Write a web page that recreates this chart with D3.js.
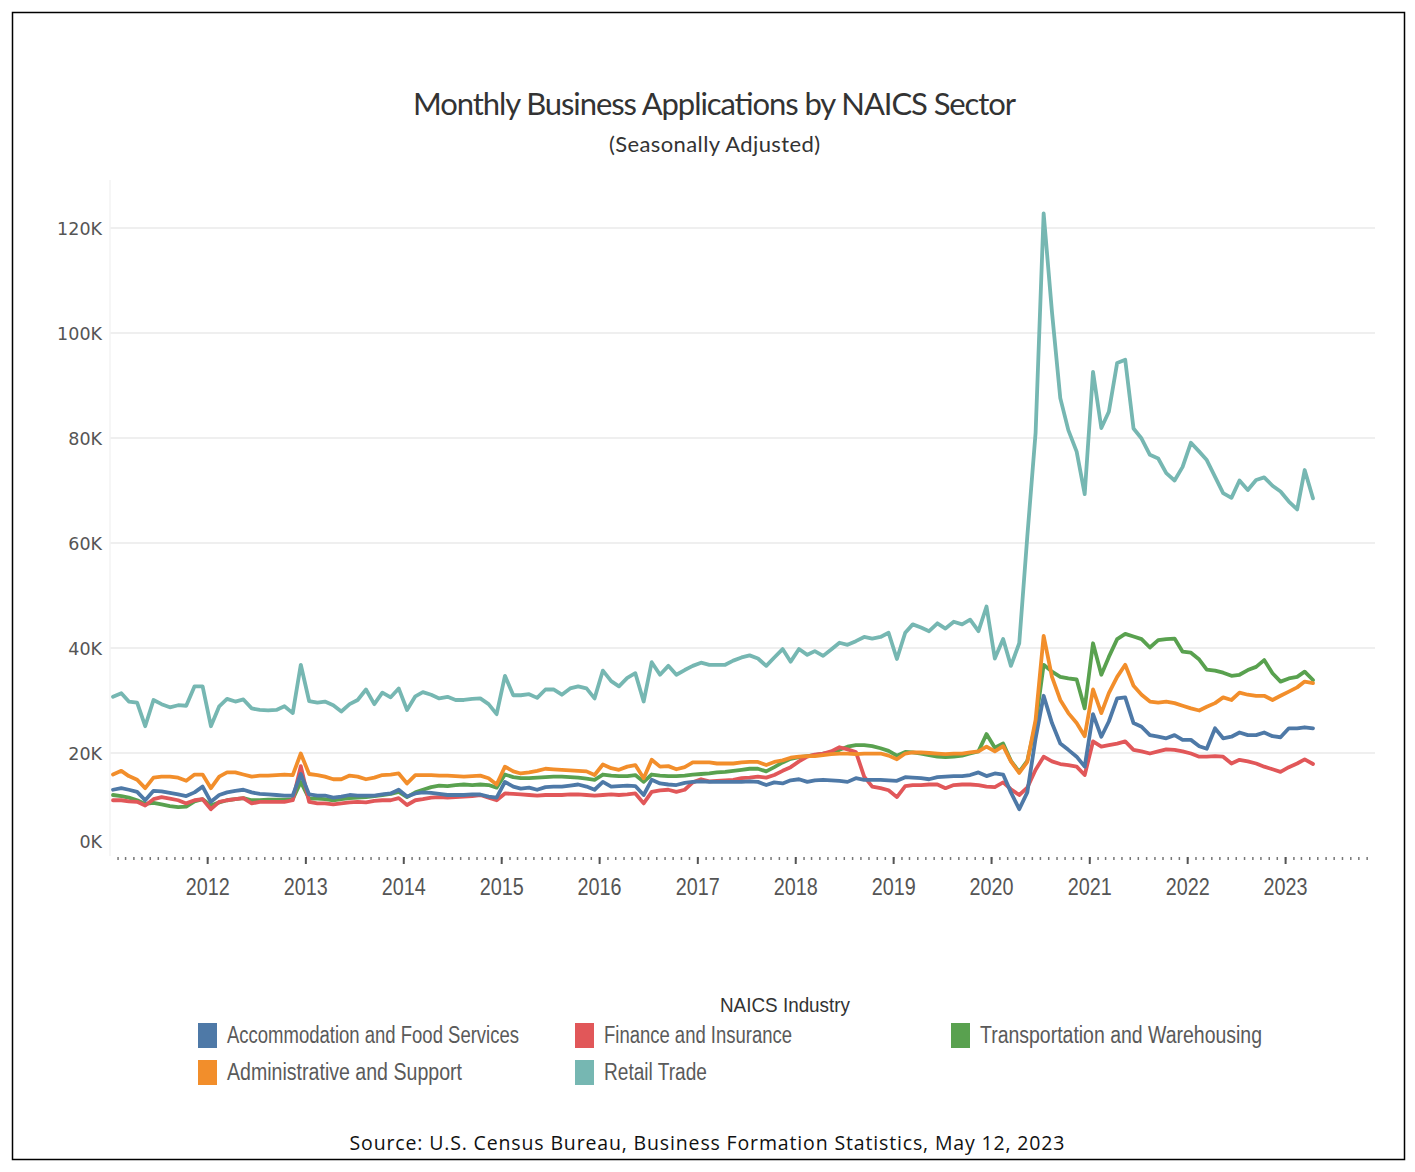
<!DOCTYPE html>
<html><head><meta charset="utf-8">
<script src="https://cdn.jsdelivr.net/npm/d3@7"></script>
<style>body{margin:0;background:#fff}</style>
</head><body>
<svg id="chart" width="1415" height="1172"></svg>
<script>
// ---------- DATA (monthly, Jan 2011 – Apr 2023, thousands of applications) ----------
const firstMonth = [2011, 0];   // Jan 2011
const accommodation = [13.0,13.3,13.0,12.6,11.0,12.8,12.7,12.4,12.1,11.8,12.5,13.6,
 10.7,12.0,12.5,12.8,13.0,12.5,12.2,12.1,12.0,11.9,11.9,16.0,
 12.1,11.9,11.9,11.5,11.7,12.0,11.9,11.9,11.9,12.1,12.3,13.0,
 11.7,12.3,12.5,12.4,12.2,12.0,12.0,12.0,12.1,12.1,11.7,11.5,
 14.5,13.6,13.2,13.4,13.0,13.5,13.6,13.6,13.8,14.0,13.6,13.0,
 14.5,13.6,13.7,13.8,13.7,12.0,14.9,14.2,14.0,13.9,14.3,14.5,
 14.6,14.5,14.5,14.5,14.5,14.5,14.6,14.5,13.9,14.4,14.2,14.8,
 15.0,14.5,14.8,14.9,14.8,14.7,14.5,15.2,14.9,14.9,14.9,14.8,
 14.7,15.4,15.3,15.2,15.0,15.4,15.5,15.6,15.6,15.8,16.3,15.6,
 16.1,15.9,12.5,9.3,12.5,22.8,30.9,25.7,21.8,20.6,19.3,17.4,
 27.4,23.1,26.0,30.4,30.6,25.7,25.0,23.4,23.1,22.8,23.4,22.5,
 22.5,21.3,20.8,24.7,22.8,23.1,23.9,23.4,23.4,23.9,23.2,23.0,
 24.7,24.7,24.9,24.7];
const administrative = [15.9,16.6,15.6,14.9,13.3,15.3,15.5,15.5,15.3,14.7,15.9,15.9,
 13.3,15.5,16.3,16.3,15.9,15.5,15.7,15.7,15.8,15.9,15.8,19.9,
 16.0,15.8,15.5,15.0,15.0,15.7,15.5,15.0,15.3,15.8,15.9,16.1,
 14.2,15.8,15.8,15.8,15.7,15.7,15.6,15.5,15.6,15.7,15.2,14.0,
 17.4,16.5,16.1,16.3,16.6,17.0,16.9,16.8,16.7,16.6,16.5,15.8,
 17.8,17.1,16.8,17.4,17.7,15.2,18.7,17.4,17.5,16.9,17.3,18.2,
 18.2,18.2,18.0,18.0,18.0,18.2,18.3,18.3,17.7,18.3,18.6,19.1,
 19.3,19.4,19.4,19.6,19.8,19.9,19.9,19.8,19.9,19.9,19.9,19.5,
 18.8,19.9,20.1,20.1,20.0,19.9,19.8,19.9,19.9,20.1,20.3,21.2,
 20.3,21.3,18.4,16.2,18.3,26.3,42.3,34.5,30.1,27.6,25.7,23.2,
 32.1,27.6,31.4,34.5,36.8,32.8,31.1,29.8,29.6,29.8,29.5,29.0,
 28.5,28.1,28.8,29.5,30.6,30.1,31.5,31.1,30.9,30.9,30.1,30.9,
 31.7,32.5,33.6,33.3];
const finance = [11.0,11.0,10.8,10.7,10.0,11.2,11.6,11.3,11.0,10.4,11.0,11.2,
 9.3,10.7,11.0,11.2,11.4,10.4,10.7,10.7,10.7,10.7,11.0,17.5,
 10.7,10.4,10.4,10.2,10.4,10.6,10.7,10.6,10.9,11.0,11.0,11.4,
 10.1,11.0,11.2,11.5,11.6,11.5,11.6,11.7,11.8,12.0,11.5,11.0,
 12.3,12.2,12.1,12.0,11.9,12.0,12.0,12.0,12.1,12.1,12.0,11.9,
 12.0,12.1,12.0,12.1,12.3,10.4,12.6,12.9,13.0,12.6,13.0,14.4,
 15.0,14.6,14.7,14.8,14.9,15.2,15.3,15.5,15.3,15.8,16.6,17.3,
 18.4,19.3,19.7,19.9,20.3,21.1,20.7,20.2,15.5,13.6,13.3,12.9,
 11.6,13.7,13.9,13.9,14.0,14.0,13.3,13.9,14.0,14.0,13.9,13.6,
 13.5,14.4,13.1,12.0,13.4,16.8,19.3,18.4,17.9,17.7,17.4,15.8,
 22.2,21.2,21.5,21.8,22.2,20.6,20.3,19.9,20.3,20.7,20.6,20.3,
 19.9,19.3,19.3,19.4,19.3,18.0,18.7,18.4,18.0,17.4,16.9,16.4,
 17.3,18.0,18.8,17.9];
const retail = [30.7,31.4,29.8,29.6,25.1,30.1,29.3,28.7,29.1,29.0,32.7,32.7,
 25.1,28.9,30.3,29.8,30.2,28.5,28.2,28.1,28.2,28.9,27.6,36.8,
 29.9,29.6,29.8,29.1,27.9,29.3,30.1,32.1,29.3,31.5,30.6,32.3,
 28.2,30.8,31.6,31.1,30.4,30.7,30.1,30.1,30.3,30.4,29.3,27.4,
 34.7,31.0,31.0,31.2,30.5,32.1,32.1,31.1,32.3,32.7,32.3,30.4,
 35.7,33.7,32.7,34.3,35.2,29.8,37.3,34.9,36.6,34.9,35.8,36.6,
 37.2,36.8,36.8,36.8,37.6,38.2,38.6,38.0,36.6,38.2,39.8,37.4,
 39.8,38.7,39.4,38.5,39.7,41.0,40.6,41.3,42.1,41.8,42.1,42.9,
 37.9,42.9,44.5,43.9,43.2,44.7,43.7,45.0,44.5,45.4,43.2,47.9,
 38.0,41.7,36.6,40.9,61.2,81.0,122.8,104.0,87.6,81.5,77.4,69.3,
 92.6,81.9,85.0,94.3,94.9,81.8,79.9,76.8,76.1,73.3,71.9,74.5,
 79.1,77.4,75.8,72.6,69.5,68.6,71.9,70.1,72.0,72.5,70.9,69.8,
 67.9,66.4,73.9,68.5];
const transportation = [12.0,11.8,11.5,11.0,10.3,10.5,10.2,9.9,9.7,9.8,10.8,11.2,
 10.0,10.6,11.0,11.2,11.4,11.0,11.0,11.1,11.1,11.1,11.2,14.5,
 11.3,11.3,11.2,11.0,11.2,11.4,11.5,11.6,11.8,12.0,12.2,12.6,
 11.6,12.5,13.0,13.5,13.8,13.7,13.9,14.0,13.9,14.0,13.9,13.4,
 15.9,15.4,15.2,15.2,15.3,15.4,15.5,15.5,15.4,15.3,15.1,14.9,
 15.9,15.7,15.6,15.6,15.8,14.5,15.9,15.7,15.6,15.6,15.7,15.9,
 16.0,16.1,16.3,16.4,16.6,16.8,17.0,17.0,16.5,17.3,18.2,18.9,
 19.2,19.4,19.6,19.9,20.1,20.6,21.2,21.5,21.5,21.3,20.9,20.4,
 19.5,20.2,20.1,19.9,19.6,19.3,19.2,19.3,19.5,19.9,20.3,23.6,
 21.0,21.8,18.5,16.4,18.5,25.5,36.8,35.5,34.5,34.2,34.0,28.5,
 40.9,34.9,38.3,41.7,42.7,42.2,41.7,40.1,41.5,41.7,41.8,39.3,
 39.1,37.8,35.9,35.7,35.3,34.7,34.9,35.8,36.4,37.7,35.2,33.6,
 34.2,34.5,35.5,33.9];

const seriesNames = ["Accommodation and Food Services","Administrative and Support",
  "Finance and Insurance","Retail Trade","Transportation and Warehousing"];
const seriesValues = [accommodation, administrative, finance, retail, transportation];
const seriesColors = ["#4e79a7","#f28e2b","#e15759","#76b7b2","#59a14f"];
const yTickValues = [0, 20000, 40000, 60000, 80000, 100000, 120000];
const yearTickLabels = [2012,2013,2014,2015,2016,2017,2018,2019,2020,2021,2022,2023];

// ---------- CHART ----------
const svg = d3.select("#chart");
const condensed = "'Liberation Sans Narrow', 'Arial Narrow', 'Liberation Sans', sans-serif";

const monthDate = i => new Date(Date.UTC(firstMonth[0], firstMonth[1] + i, 15));
const nMonths = retail.length;

const x = d3.scaleUtc()
  .domain([monthDate(0), monthDate(nMonths - 1)])
  .range([113, 1313]);
const y = d3.scaleLinear().domain([0, 120000]).range([858, 228]);

// frame
svg.append("rect").attr("x", 12.5).attr("y", 12.5).attr("width", 1392).attr("height", 1147)
  .attr("fill", "#fff").attr("stroke", "#000").attr("stroke-width", 1.5);

// title
svg.append("text").attr("x", 714.5).attr("y", 115).attr("text-anchor", "middle")
  .attr("font-family", "Lato, 'Open Sans', sans-serif").attr("font-size", 31)
  .attr("fill", "#333").attr("textLength", 603)
  .text("Monthly Business Applications by NAICS Sector");
svg.append("text").attr("x", 714.5).attr("y", 152).attr("text-anchor", "middle")
  .attr("font-family", "Lato, 'Open Sans', sans-serif").attr("font-size", 22)
  .attr("fill", "#333").attr("textLength", 211)
  .text("(Seasonally Adjusted)");

// gridlines
const gridG = svg.append("g");
gridG.selectAll("line").data(yTickValues.filter(d => d > 0)).join("line")
  .attr("x1", 110).attr("x2", 1375)
  .attr("y1", d => y(d)).attr("y2", d => y(d))
  .attr("stroke", "#efefef").attr("stroke-width", 2);
gridG.append("line").attr("x1", 110).attr("x2", 110).attr("y1", 180).attr("y2", 856)
  .attr("stroke", "#f3f3f3").attr("stroke-width", 1.5);

// y axis labels
const yAxis = svg.append("g").attr("transform", "translate(102,0)")
  .call(d3.axisLeft(y).tickValues(yTickValues).tickSize(0).tickPadding(0)
    .tickFormat(d => (d / 1000) + "K"));
yAxis.select(".domain").remove();
yAxis.selectAll("text")
  .attr("font-family", "'DejaVu Sans', Verdana, sans-serif").attr("font-size", 17.5)
  .attr("fill", "#555")
  .attr("dy", d => d === 0 ? "-0.62em" : "0.36em");

// x axis: monthly minor ticks + yearly major ticks
const monthTicks = d3.utcMonth.range(new Date(Date.UTC(2011, 1, 1)), new Date(Date.UTC(2023, 11, 1)));
const xMinor = svg.append("g").attr("transform", "translate(0,857)")
  .call(d3.axisBottom(x).tickValues(monthTicks).tickSize(3).tickFormat(""));
xMinor.select(".domain").remove();
xMinor.selectAll("line").attr("stroke", "#777").attr("stroke-width", 1.5);

const yearDates = yearTickLabels.map(yr => new Date(Date.UTC(yr, 0, 1)));
const xMajor = svg.append("g").attr("transform", "translate(0,857)")
  .call(d3.axisBottom(x).tickValues(yearDates).tickSize(7).tickPadding(15)
    .tickFormat(d3.utcFormat("%Y")));
xMajor.select(".domain").remove();
xMajor.selectAll("line").attr("stroke", "#555").attr("stroke-width", 2);
xMajor.selectAll("text")
  .attr("font-family", condensed)
  .attr("font-size", 23).attr("fill", "#555")
  .attr("textLength", 44).attr("lengthAdjust", "spacingAndGlyphs");

// lines
const line = d3.line()
  .x((d, i) => x(monthDate(i)))
  .y(d => y(d * 1000));
const drawOrder = [4, 2, 0, 3, 1];
const linesG = svg.append("g");
drawOrder.forEach(k => {
  linesG.append("path").datum(seriesValues[k])
    .attr("d", line).attr("fill", "none")
    .attr("stroke", seriesColors[k]).attr("stroke-width", 3.8)
    .attr("stroke-linejoin", "round").attr("stroke-linecap", "round");
});

// legend
svg.append("text").attr("x", 785).attr("y", 1012).attr("text-anchor", "middle")
  .attr("font-family", condensed)
  .attr("font-size", 21).attr("fill", "#333")
  .attr("textLength", 130).attr("lengthAdjust", "spacingAndGlyphs")
  .text("NAICS Industry");

const legendPos = [
  {sx: 198, sy: 1023, w: 292}, // Accommodation
  {sx: 198, sy: 1060, w: 235}, // Administrative
  {sx: 575, sy: 1023, w: 188}, // Finance
  {sx: 575, sy: 1060, w: 103}, // Retail
  {sx: 951, sy: 1023, w: 282}  // Transportation
];
const legendG = svg.append("g");
const items = legendG.selectAll("g").data(seriesNames).join("g");
items.append("rect")
  .attr("x", (d, i) => legendPos[i].sx).attr("y", (d, i) => legendPos[i].sy)
  .attr("width", 19).attr("height", 25)
  .attr("fill", (d, i) => seriesColors[i]);
items.append("text")
  .attr("x", (d, i) => legendPos[i].sx + 29).attr("y", (d, i) => legendPos[i].sy + 20)
  .attr("font-family", condensed)
  .attr("font-size", 23).attr("fill", "#5a5a5a")
  .attr("textLength", (d, i) => legendPos[i].w).attr("lengthAdjust", "spacingAndGlyphs")
  .text(d => d);

// source
svg.append("text").attr("x", 707).attr("y", 1150).attr("text-anchor", "middle")
  .attr("font-family", "'Open Sans', 'Noto Sans', sans-serif").attr("font-size", 19.5)
  .attr("fill", "#111").attr("textLength", 715)
  .text("Source: U.S. Census Bureau, Business Formation Statistics, May 12, 2023");
</script>
</body></html>
